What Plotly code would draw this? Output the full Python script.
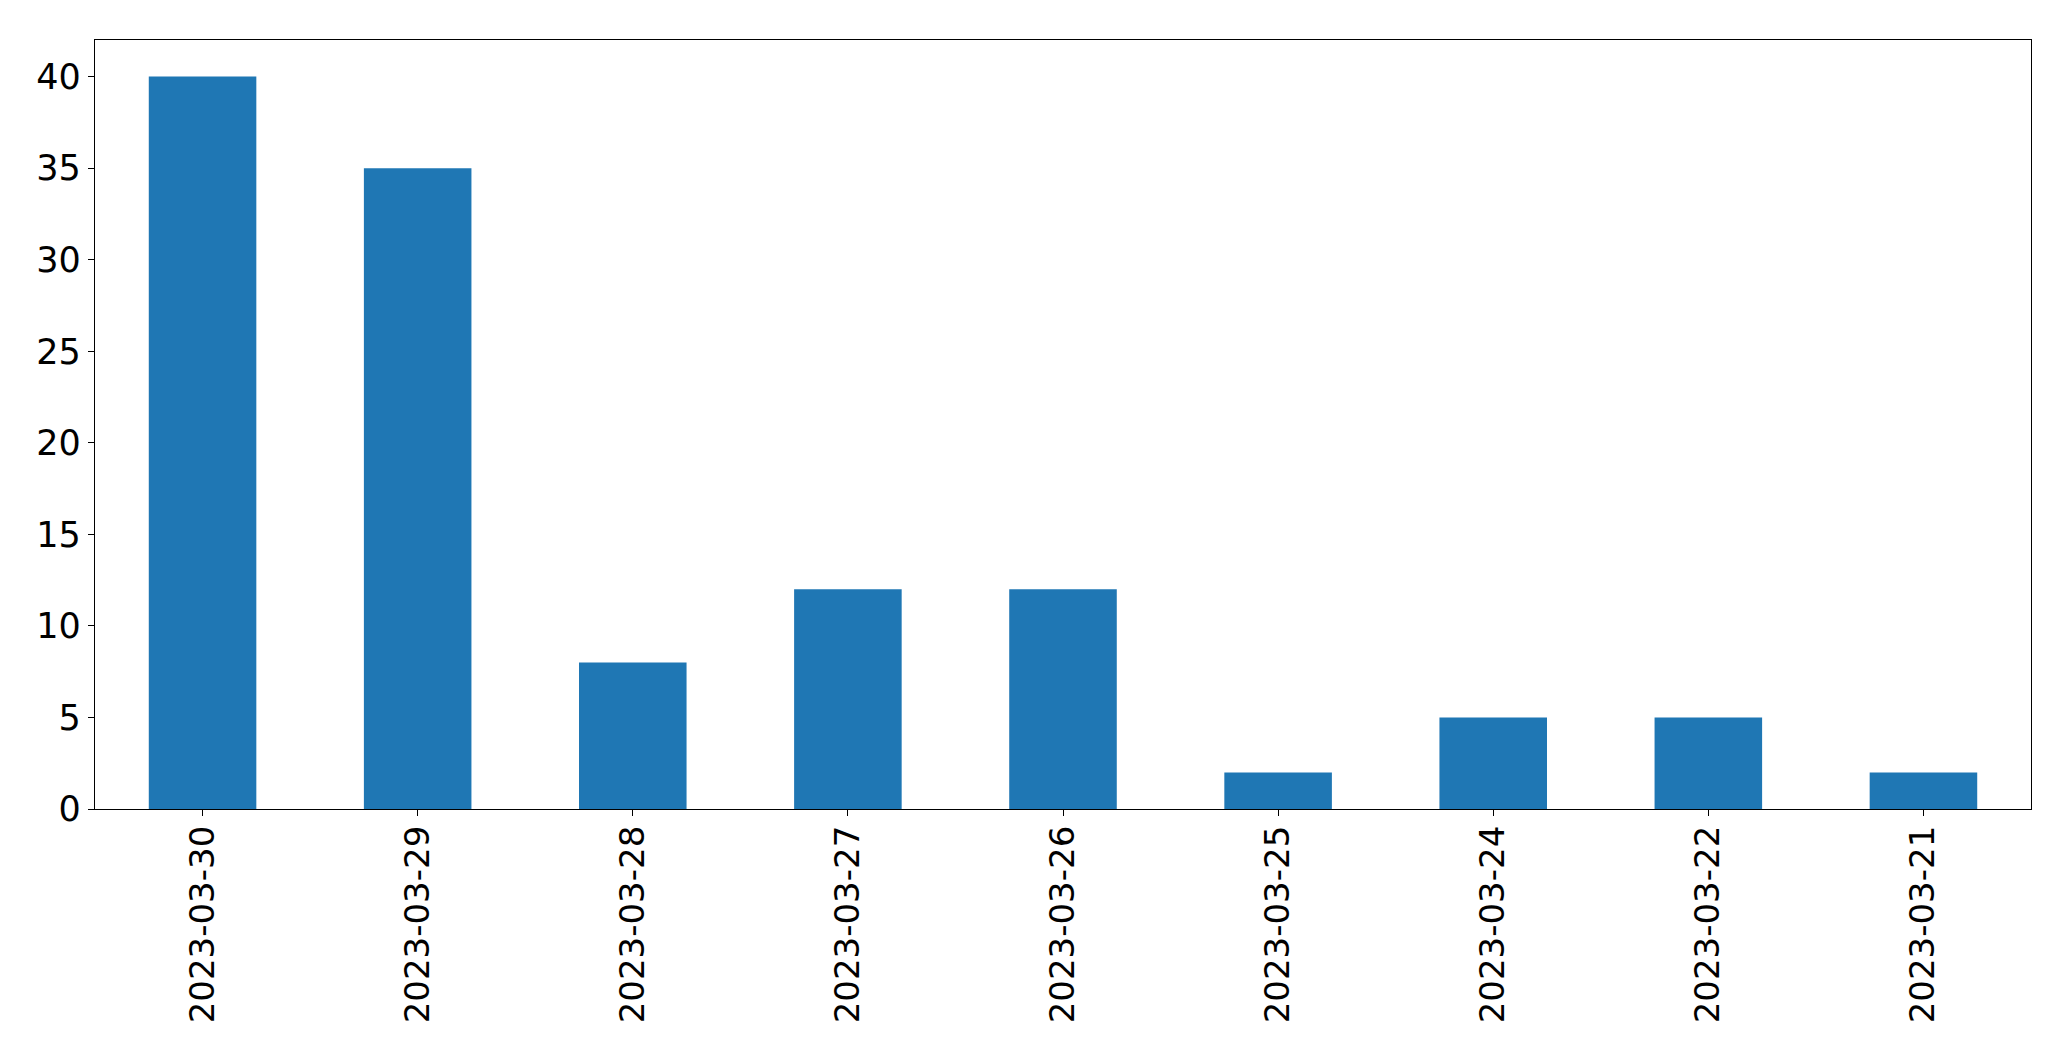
import plotly.graph_objects as go

dates = ["2023-03-30", "2023-03-29", "2023-03-28", "2023-03-27", "2023-03-26",
         "2023-03-25", "2023-03-24", "2023-03-22", "2023-03-21"]
counts = [40, 35, 8, 12, 12, 2, 5, 5, 2]
y_ticks = [0, 5, 10, 15, 20, 25, 30, 35, 40]

fig = go.Figure(go.Bar(x=dates, y=counts, marker=dict(color="#1f77b4", line=dict(width=0)), width=0.5))

# page body has an 8px default margin, so the figure is offset by 8px
fig.update_layout(
    width=2063, height=1053,
    margin=dict(l=87, r=40, t=32, b=252, pad=0),
    paper_bgcolor="white", plot_bgcolor="white",
    font=dict(family="DejaVu Sans", size=34, color="black"),
    showlegend=False,
    bargap=0.5,
)
fig.update_xaxes(
    type="category", range=[-0.5, 8.5], tickangle=-90,
    showline=True, linecolor="black", linewidth=1.3, mirror=True,
    ticks="outside", ticklen=6, tickcolor="black", tickwidth=1.3,
    showgrid=False, zeroline=False, automargin=False,
    ticklabelstandoff=-4,
)
fig.update_yaxes(
    range=[0, 42], tickvals=y_ticks,
    showline=True, linecolor="black", linewidth=1.3, mirror=True,
    ticks="outside", ticklen=6, tickcolor="black", tickwidth=1.3,
    showgrid=False, zeroline=False, automargin=False,
    tickfont=dict(size=35),
)
fig.write_html("out.html")
